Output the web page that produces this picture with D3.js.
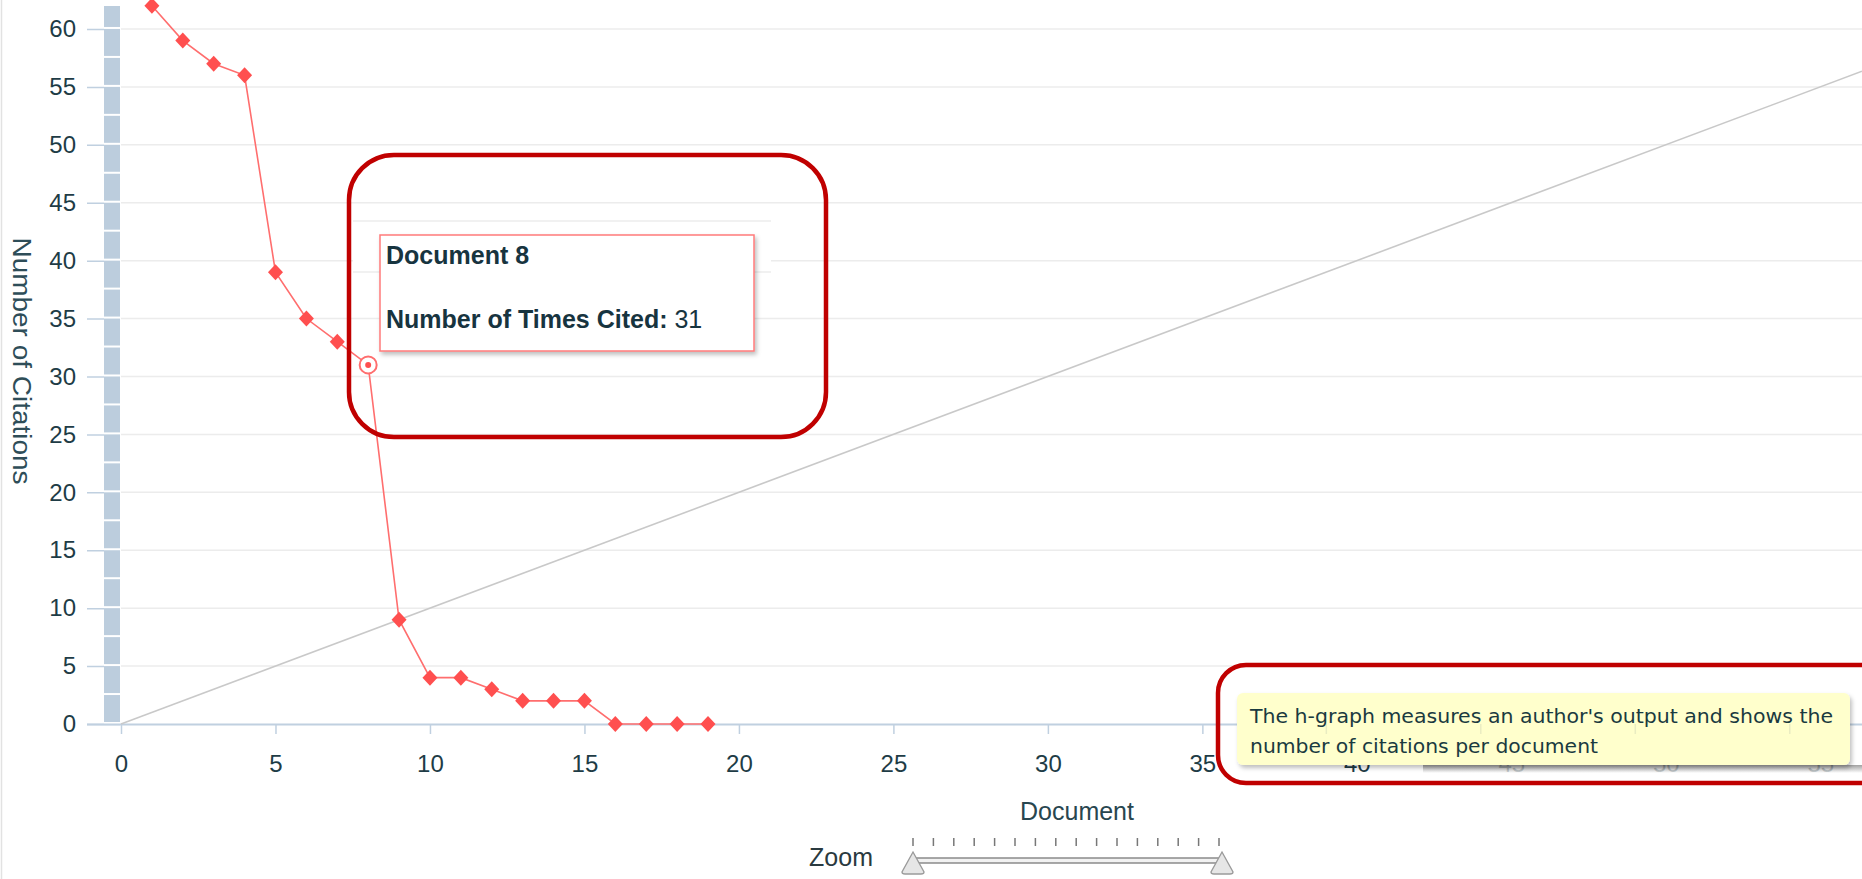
<!DOCTYPE html>
<html>
<head>
<meta charset="utf-8">
<script src="https://cdn.jsdelivr.net/npm/d3@7"></script>
<style>
  html, body { margin: 0; padding: 0; background: #ffffff; overflow: hidden; }
  svg { display: block; }
  text { font-family: "Liberation Sans", Arial, sans-serif; }
</style>
</head>
<body>
<svg id="chart" width="1862" height="879"></svg>
<script>
// ---------- data ----------
const documents = [1, 2, 3, 4, 5, 6, 7, 8, 9, 10, 11, 12, 13, 14, 15, 16, 17, 18, 19];
const citations = [62, 59, 57, 56, 39, 35, 33, 31, 9, 4, 4, 3, 2, 2, 2, 0, 0, 0, 0];
const xTickValues = [0, 5, 10, 15, 20, 25, 30, 35, 40, 45, 50, 55];
const yTickValues = [0, 5, 10, 15, 20, 25, 30, 35, 40, 45, 50, 55, 60];
const ghostTickValues = [45, 50, 55, 60];
const hoveredDocument = 8;
const xTitle = "Document";
const yTitle = "Number of Citations";
const tooltipTitle = "Document 8";
const tooltipLabel = "Number of Times Cited:";
const infoLines = ["The h-graph measures an author's output and shows the",
                   "number of citations per document"];
const zoomSteps = 16;

// ---------- setup ----------
const svg = d3.select("#chart");
const W = 1862, H = 879;
const x = d3.scaleLinear().domain([0, 56.35]).range([121, 1862]);
const y = d3.scaleLinear().domain([0, 62.5]).range([724, 0]);
const textColor = "#1e3c46";
const axisColor = "#c0d0e0";

const defs = svg.append("defs");
const sh = defs.append("filter").attr("id", "shadow").attr("x", "-5%").attr("y", "-10%").attr("width", "115%").attr("height", "140%");
sh.append("feDropShadow").attr("dx", 2).attr("dy", 3).attr("stdDeviation", 2).attr("flood-color", "#000").attr("flood-opacity", 0.25);
const grad = defs.append("linearGradient").attr("id", "stripGrad").attr("x1", 0).attr("y1", 0).attr("x2", 0).attr("y2", 1);
grad.append("stop").attr("offset", "0%").attr("stop-color", "#8a8a8a");
grad.append("stop").attr("offset", "100%").attr("stop-color", "#ffffff");

// left border
svg.append("line").attr("x1", 1.5).attr("x2", 1.5).attr("y1", 0).attr("y2", H)
  .attr("stroke", "#e2e2e2").attr("stroke-width", 1.5);

// ---------- grid ----------
svg.append("g").selectAll("line").data(yTickValues.filter(v => v > 0)).join("line")
  .attr("x1", x(0)).attr("x2", W)
  .attr("y1", d => y(d)).attr("y2", d => y(d))
  .attr("stroke", "#ececec").attr("stroke-width", 1.5);

// ---------- y axis ----------
const yAxis = svg.append("g").attr("transform", "translate(120,0)")
  .call(d3.axisLeft(y).tickValues(yTickValues).tickSizeInner(33).tickSizeOuter(0).tickPadding(11));
yAxis.select(".domain").remove();
yAxis.selectAll(".tick line").attr("stroke", axisColor).attr("stroke-width", 1.5);
yAxis.selectAll(".tick text").attr("fill", textColor).style("font-size", "24px")
  .style("font-family", "'Liberation Sans', Arial, sans-serif");

// y scroll band
svg.append("rect").attr("x", 104).attr("y", 6).attr("width", 16).attr("height", y(0) - 6)
  .attr("fill", "#bccddd");
svg.append("g").selectAll("line").data(d3.range(0, 62.5, 2.5)).join("line")
  .attr("x1", 104).attr("x2", 120).attr("y1", d => y(d) - 1).attr("y2", d => y(d) - 1)
  .attr("stroke", "#ffffff").attr("stroke-width", 2);

// ---------- x axis ----------
const xAxis = svg.append("g").attr("transform", `translate(0,${y(0)})`)
  .call(d3.axisBottom(x).tickValues(xTickValues).tickSizeInner(10).tickSizeOuter(0).tickPadding(21));
xAxis.select(".domain").attr("stroke", axisColor).attr("stroke-width", 2).attr("d", `M87,0.5H${W}`);
xAxis.selectAll(".tick line").attr("stroke", axisColor).attr("stroke-width", 1.5);
xAxis.selectAll(".tick text").attr("fill", textColor).style("font-size", "24px")
  .style("font-family", "'Liberation Sans', Arial, sans-serif");

// ---------- axis titles ----------
svg.append("text").attr("x", 1077).attr("y", 820).attr("text-anchor", "middle")
  .attr("fill", "#28464f").style("font-size", "25px").text(xTitle);
svg.append("text").attr("transform", "translate(13,361) rotate(90)").attr("text-anchor", "middle")
  .attr("fill", "#2e4d58").style("font-size", "25px")
  .attr("textLength", 247).attr("lengthAdjust", "spacingAndGlyphs").text(yTitle);

// ---------- diagonal (h line) ----------
svg.append("line").attr("x1", x(0)).attr("y1", y(0)).attr("x2", x(56.35)).attr("y2", y(56.35))
  .attr("stroke", "#c9c9c9").attr("stroke-width", 1.6);

// ---------- series ----------
const pts = documents.map((d, i) => ({ doc: d, val: citations[i] }));
svg.append("path").datum(pts)
  .attr("d", d3.line().x(d => x(d.doc)).y(d => y(d.val)))
  .attr("fill", "none").attr("stroke", "#ff6e6e").attr("stroke-width", 1.6);
svg.append("g").selectAll("path").data(pts.filter(d => d.doc !== hoveredDocument)).join("path")
  .attr("transform", d => `translate(${x(d.doc)},${y(d.val)})`)
  .attr("d", "M0,-8L7.5,0L0,8L-7.5,0Z")
  .attr("fill", "#ff4f4f");
const hp = pts.find(d => d.doc === hoveredDocument);
svg.append("circle").attr("cx", x(hp.doc)).attr("cy", y(hp.val)).attr("r", 8.5)
  .attr("fill", "#ffffff").attr("stroke", "#ff6e6e").attr("stroke-width", 2);
svg.append("circle").attr("cx", x(hp.doc)).attr("cy", y(hp.val)).attr("r", 3)
  .attr("fill", "#ff4f4f");

// ---------- pasted patch in first annotation ----------
svg.append("rect").attr("x", 353).attr("y", 209).attr("width", 418).attr("height", 100).attr("fill", "#fff");
svg.append("g").selectAll("line").data([221, 272]).join("line")
  .attr("x1", 353).attr("x2", 771).attr("y1", d => d).attr("y2", d => d)
  .attr("stroke", "#ececec").attr("stroke-width", 1.5);

// ---------- tooltip (Document 8) ----------
svg.append("rect").attr("x", 380).attr("y", 235).attr("width", 374).attr("height", 116)
  .attr("fill", "#ffffff").attr("stroke", "#ff7b7b").attr("stroke-width", 1.5)
  .attr("filter", "url(#shadow)");
svg.append("text").attr("x", 386).attr("y", 264).attr("fill", "#17343f")
  .style("font-size", "25px").style("font-weight", "bold").text(tooltipTitle);
const t2 = svg.append("text").attr("x", 386).attr("y", 328).attr("fill", "#17343f").style("font-size", "25px");
t2.append("tspan").style("font-weight", "bold").text(tooltipLabel + " ");
t2.append("tspan").text(hp.val);

// ---------- info tooltip (yellow) ----------
svg.append("rect").attr("x", 1423).attr("y", 765).attr("width", W - 1423).attr("height", 8)
  .attr("fill", "url(#stripGrad)").attr("opacity", 0.8);
svg.append("rect").attr("x", 1237).attr("y", 693).attr("width", 613).attr("height", 72).attr("rx", 6)
  .attr("fill", "#ffffcc").attr("filter", "url(#shadow)");
// faint ghost axis ticks visible through the tooltip
svg.append("g").attr("opacity", 0.13).selectAll("line").data(ghostTickValues).join("line")
  .attr("x1", d => x(d) - 185).attr("x2", d => x(d) - 185).attr("y1", 724).attr("y2", 734)
  .attr("stroke", "#607080").attr("stroke-width", 1.5);
svg.append("g").selectAll("text").data(infoLines).join("text")
  .attr("x", 1250).attr("y", (d, i) => 723 + i * 30)
  .attr("fill", "#1a3a40")
  .style("font-family", "'DejaVu Sans', Verdana, sans-serif").style("font-size", "19px")
  .attr("textLength", (d, i) => i === 0 ? 583 : 348).attr("lengthAdjust", "spacingAndGlyphs")
  .text(d => d);

// ---------- red annotation boxes ----------
svg.append("rect").attr("x", 349).attr("y", 155).attr("width", 477).attr("height", 282).attr("rx", 45)
  .attr("fill", "none").attr("stroke", "#c00000").attr("stroke-width", 4.5);
svg.append("rect").attr("x", 1218).attr("y", 665).attr("width", 700).attr("height", 118).attr("rx", 28)
  .attr("fill", "none").attr("stroke", "#c00000").attr("stroke-width", 4.5);

// ---------- zoom slider ----------
svg.append("text").attr("x", 841).attr("y", 866).attr("text-anchor", "middle")
  .attr("fill", "#2a3a40").style("font-size", "25px").text("Zoom");
const zx = d3.scaleLinear().domain([0, zoomSteps - 1]).range([913, 1219]);
svg.append("g").selectAll("line").data(d3.range(zoomSteps)).join("line")
  .attr("x1", d => zx(d)).attr("x2", d => zx(d)).attr("y1", 838).attr("y2", 846)
  .attr("stroke", "#777").attr("stroke-width", 1.5);
svg.append("rect").attr("x", 913).attr("y", 858).attr("width", 309).attr("height", 5)
  .attr("fill", "#f2f2f2").attr("stroke", "#7a7a7a").attr("stroke-width", 1.3);
svg.append("g").selectAll("path").data([913, 1222]).join("path")
  .attr("d", d => `M${d},852L${d + 11},872Q${d + 11},874 ${d + 8},874L${d - 8},874Q${d - 11},874 ${d - 11},872Z`)
  .attr("fill", "#e6e6e6").attr("stroke", "#9a9a9a").attr("stroke-width", 1.3);
</script>
</body>
</html>
